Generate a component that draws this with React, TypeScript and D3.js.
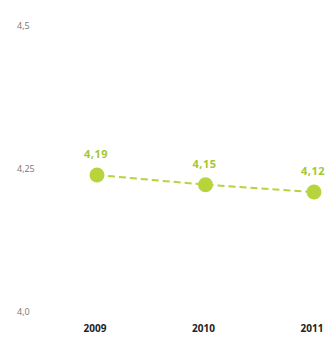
import React from "react";
import * as d3 from "d3";

const years = ["2009", "2010", "2011"];
const values = [4.19, 4.15, 4.12];
const valueLabels = ["4,19", "4,15", "4,12"];
const yTicks = [4.0, 4.25, 4.5];
const yTickLabels = ["4,0", "4,25", "4,5"];

const W = 333;
const H = 339;

export default function App() {
  const x = d3.scalePoint<string>().domain(years).range([97, 314]);
  // axis label scale
  const yAxis = d3.scaleLinear().domain([4.0, 4.5]).range([312, 26]);
  // point scale (as drawn in reference)
  const yPt = d3.scaleLinear().domain([4.12, 4.19]).range([192, 175]);

  const line = d3
    .line<number>()
    .x((_, i) => x(years[i])!)
    .y((d) => yPt(d));

  const green = "#b7d43c";
  const labelGreen = "#a6c634";

  return (
    <svg
      width={W}
      height={H}
      style={{ position: "absolute", left: 0, top: 0, background: "#fff" }}
      fontFamily="'Open Sans', sans-serif"
    >
      {yTicks.map((t, i) => (
        <text
          key={t}
          x={17}
          y={yAxis(t)}
          dy="0.35em"
          fontSize={9}
          fill="#777"
        >
          {yTickLabels[i]}
        </text>
      ))}
      <path
        d={line(values) || ""}
        fill="none"
        stroke={green}
        strokeWidth={2}
        strokeDasharray="7,4"
      />
      {values.map((v, i) => (
        <g key={years[i]}>
          <circle cx={x(years[i])} cy={yPt(v)} r={7.5} fill={green} />
          <text
            x={x(years[i])! - 1}
            y={yPt(v) - 17}
            textAnchor="middle"
            fontSize={11}
            fontWeight="bold"
            letterSpacing={0.5}
            fill={labelGreen}
          >
            {valueLabels[i]}
          </text>
          <text
            x={x(years[i])! - 2}
            y={332}
            textAnchor="middle"
            fontSize={10}
            fontWeight="bold"
            fill="#222"
          >
            {years[i]}
          </text>
        </g>
      ))}
    </svg>
  );
}
